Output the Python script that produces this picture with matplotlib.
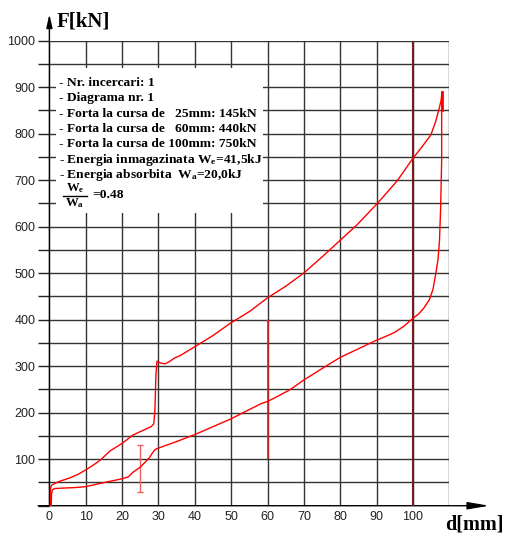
import matplotlib
matplotlib.use("Agg")
import matplotlib.pyplot as plt
from matplotlib.patches import Rectangle

# load curve (upper branch), d in mm, F in kN
load_d = [0.3, 0.3, 0.6, 1.5, 3, 5.7, 8, 10, 12, 14, 16.7, 20, 23, 26, 28, 28.7,
          29.0, 29.3, 29.6, 30.5, 31.8, 33, 34.5, 36, 40, 45, 49.7, 55.3, 59.8,
          65, 69.9, 75, 80, 84.6, 90.2, 95.7, 99.8, 102.5, 104.9, 106.2, 107.1,
          107.7, 108]
load_f = [0, 38, 44, 48, 53, 60, 68, 77, 87, 98, 118, 134, 152, 163, 170, 176,
          200, 280, 311, 307, 305, 310, 318, 323, 342, 366, 392, 419, 446,
          472, 500, 535, 571, 604, 650, 699, 745, 772, 797, 825, 851,
          870, 889]

# unload curve (lower branch)
unload_d = [108, 107.9, 107.9, 107.6, 107.3, 106.9, 106.3, 105.5, 104.5, 103,
            101.5, 100, 97.5, 95, 92.5, 89.7, 84.6, 80, 75, 69.9, 66.3, 62, 59.9,
            58.1, 55.3, 50, 45, 40, 35, 30, 29.1, 28.3, 27.5, 25, 23, 21.7, 20,
            17, 14, 10, 7, 4, 1.5, 0.8, 0.6, 0.5]
unload_f = [889, 850, 743, 636, 570, 530, 500, 465, 443, 425,
            412, 403, 386, 373, 364, 355, 336, 319, 295, 270, 250, 232, 224,
            219, 208, 187, 170, 153, 138, 124, 121, 113, 103, 83, 72, 62, 58,
            53, 48, 41, 39, 38, 37, 34, 25, 0]

# vertical markers
bar_d = [25]
bar_lo = [30]
bar_hi = [130]
mark60_d = 60
mark60_lo, mark60_hi = 100, 400
limit_d = 100

x_ticks = list(range(0, 111, 10))
x_labels = [str(v) for v in range(0, 101, 10)] + [""]
y_ticks = list(range(0, 1001, 50))
y_labels = [str(v) if (v % 100 == 0 and v > 0) else "" for v in y_ticks]

info_lines = [
    "- Nr. incercari: 1",
    "- Diagrama nr. 1",
    "- Forta la cursa de   25mm: 145kN",
    "- Forta la cursa de   60mm: 440kN",
    "- Forta la cursa de 100mm: 750kN",
    r"- Energia inmagazinata $\mathrm{W_e}$=41,5kJ",
    r"- Energia absorbita  $\mathrm{W_a}$=20,0kJ",
]
ratio_text = "=0.48"

plt.rcParams["mathtext.fontset"] = "custom"
plt.rcParams["mathtext.rm"] = "Liberation Serif:bold"
plt.rcParams["mathtext.it"] = "Liberation Serif:bold"
plt.rcParams["mathtext.bf"] = "Liberation Serif:bold"

fig = plt.figure(figsize=(5.05, 5.38), dpi=100)
ax = fig.add_axes([0.0978, 0.0600, 0.7919, 0.8643])
ax.set_xlim(0, 110)
ax.set_ylim(0, 1000)
for s in ax.spines.values():
    s.set_visible(False)

ax.set_xticks(x_ticks)
ax.set_xticklabels(x_labels, fontfamily="Liberation Sans", fontsize=9, color="#222222")
ax.set_yticks(y_ticks)
ax.set_yticklabels(y_labels, fontfamily="Liberation Sans", fontsize=9, color="#222222")
ax.tick_params(axis="x", length=0, pad=4)
ax.tick_params(axis="y", length=8, width=1, color="#222222", pad=2)
ax.set_axisbelow(True)
ax.grid(True, color="#333333", lw=1)

# axes with arrows
ax.annotate("", xy=(121, 0), xytext=(-3.1, 0), annotation_clip=False,
            arrowprops=dict(arrowstyle="-|>,head_length=1.3,head_width=0.22",
                            color="black", lw=1, shrinkA=0, shrinkB=0))
ax.annotate("", xy=(0, 1057), xytext=(0, 0), annotation_clip=False,
            arrowprops=dict(arrowstyle="-|>,head_length=0.8,head_width=0.18",
                            color="black", lw=1, shrinkA=0, shrinkB=0))

# info box
ax.add_patch(Rectangle((1.8, 629), 57.0, 312, facecolor="white", edgecolor="none", zorder=1))
ty = 909
for line in info_lines:
    ax.text(2.7, ty, line, fontfamily="Liberation Serif", fontweight="bold",
            fontsize=9.7, va="center", ha="left", zorder=3)
    ty -= 33
ax.text(7.0, 682, r"$\mathrm{W_e}$", fontsize=9.2, ha="center", va="center", zorder=3)
ax.text(7.0, 650, r"$\mathrm{W_a}$", fontsize=9.2, ha="center", va="center", zorder=3)
ax.plot([3.8, 10.3], [667, 667], color="black", lw=1, zorder=3)
ax.text(11.9, 668, ratio_text, fontfamily="Liberation Serif", fontweight="bold",
        fontsize=9.7, va="center", ha="left", zorder=3)

# axis titles
ax.text(2.1, 1042, "F[kN]", fontfamily="Liberation Serif", fontweight="bold",
        fontsize=15, ha="left", va="center", clip_on=False)
ax.text(116.9, -41, "d[mm]", fontfamily="Liberation Serif", fontweight="bold",
        fontsize=14.5, ha="center", va="center", clip_on=False)

# markers
ax.vlines(limit_d, 0, 1000, color="#7a1a1a", lw=1.5, zorder=4)
ax.vlines(mark60_d, mark60_lo, mark60_hi, color="#dd1e1e", lw=1.2, zorder=4)
ax.hlines([mark60_hi], mark60_d - 0.4, mark60_d + 0.4, color="#dd1e1e", lw=1, zorder=4)
mid = [(a + b) / 2 for a, b in zip(bar_lo, bar_hi)]
ax.errorbar(bar_d, mid,
            yerr=[[m - a for m, a in zip(mid, bar_lo)],
                  [b - m for m, b in zip(mid, bar_hi)]],
            fmt="none", ecolor="#f06060", elinewidth=1, capsize=2.5, capthick=1, zorder=4)

# curves
ax.plot(load_d, load_f, color="red", lw=1, zorder=5)
ax.plot(unload_d, unload_f, color="red", lw=1, zorder=5)
ax.plot([108, 108], [850, 889], color="red", lw=2, zorder=5)

fig.savefig("out.png", dpi=100)
